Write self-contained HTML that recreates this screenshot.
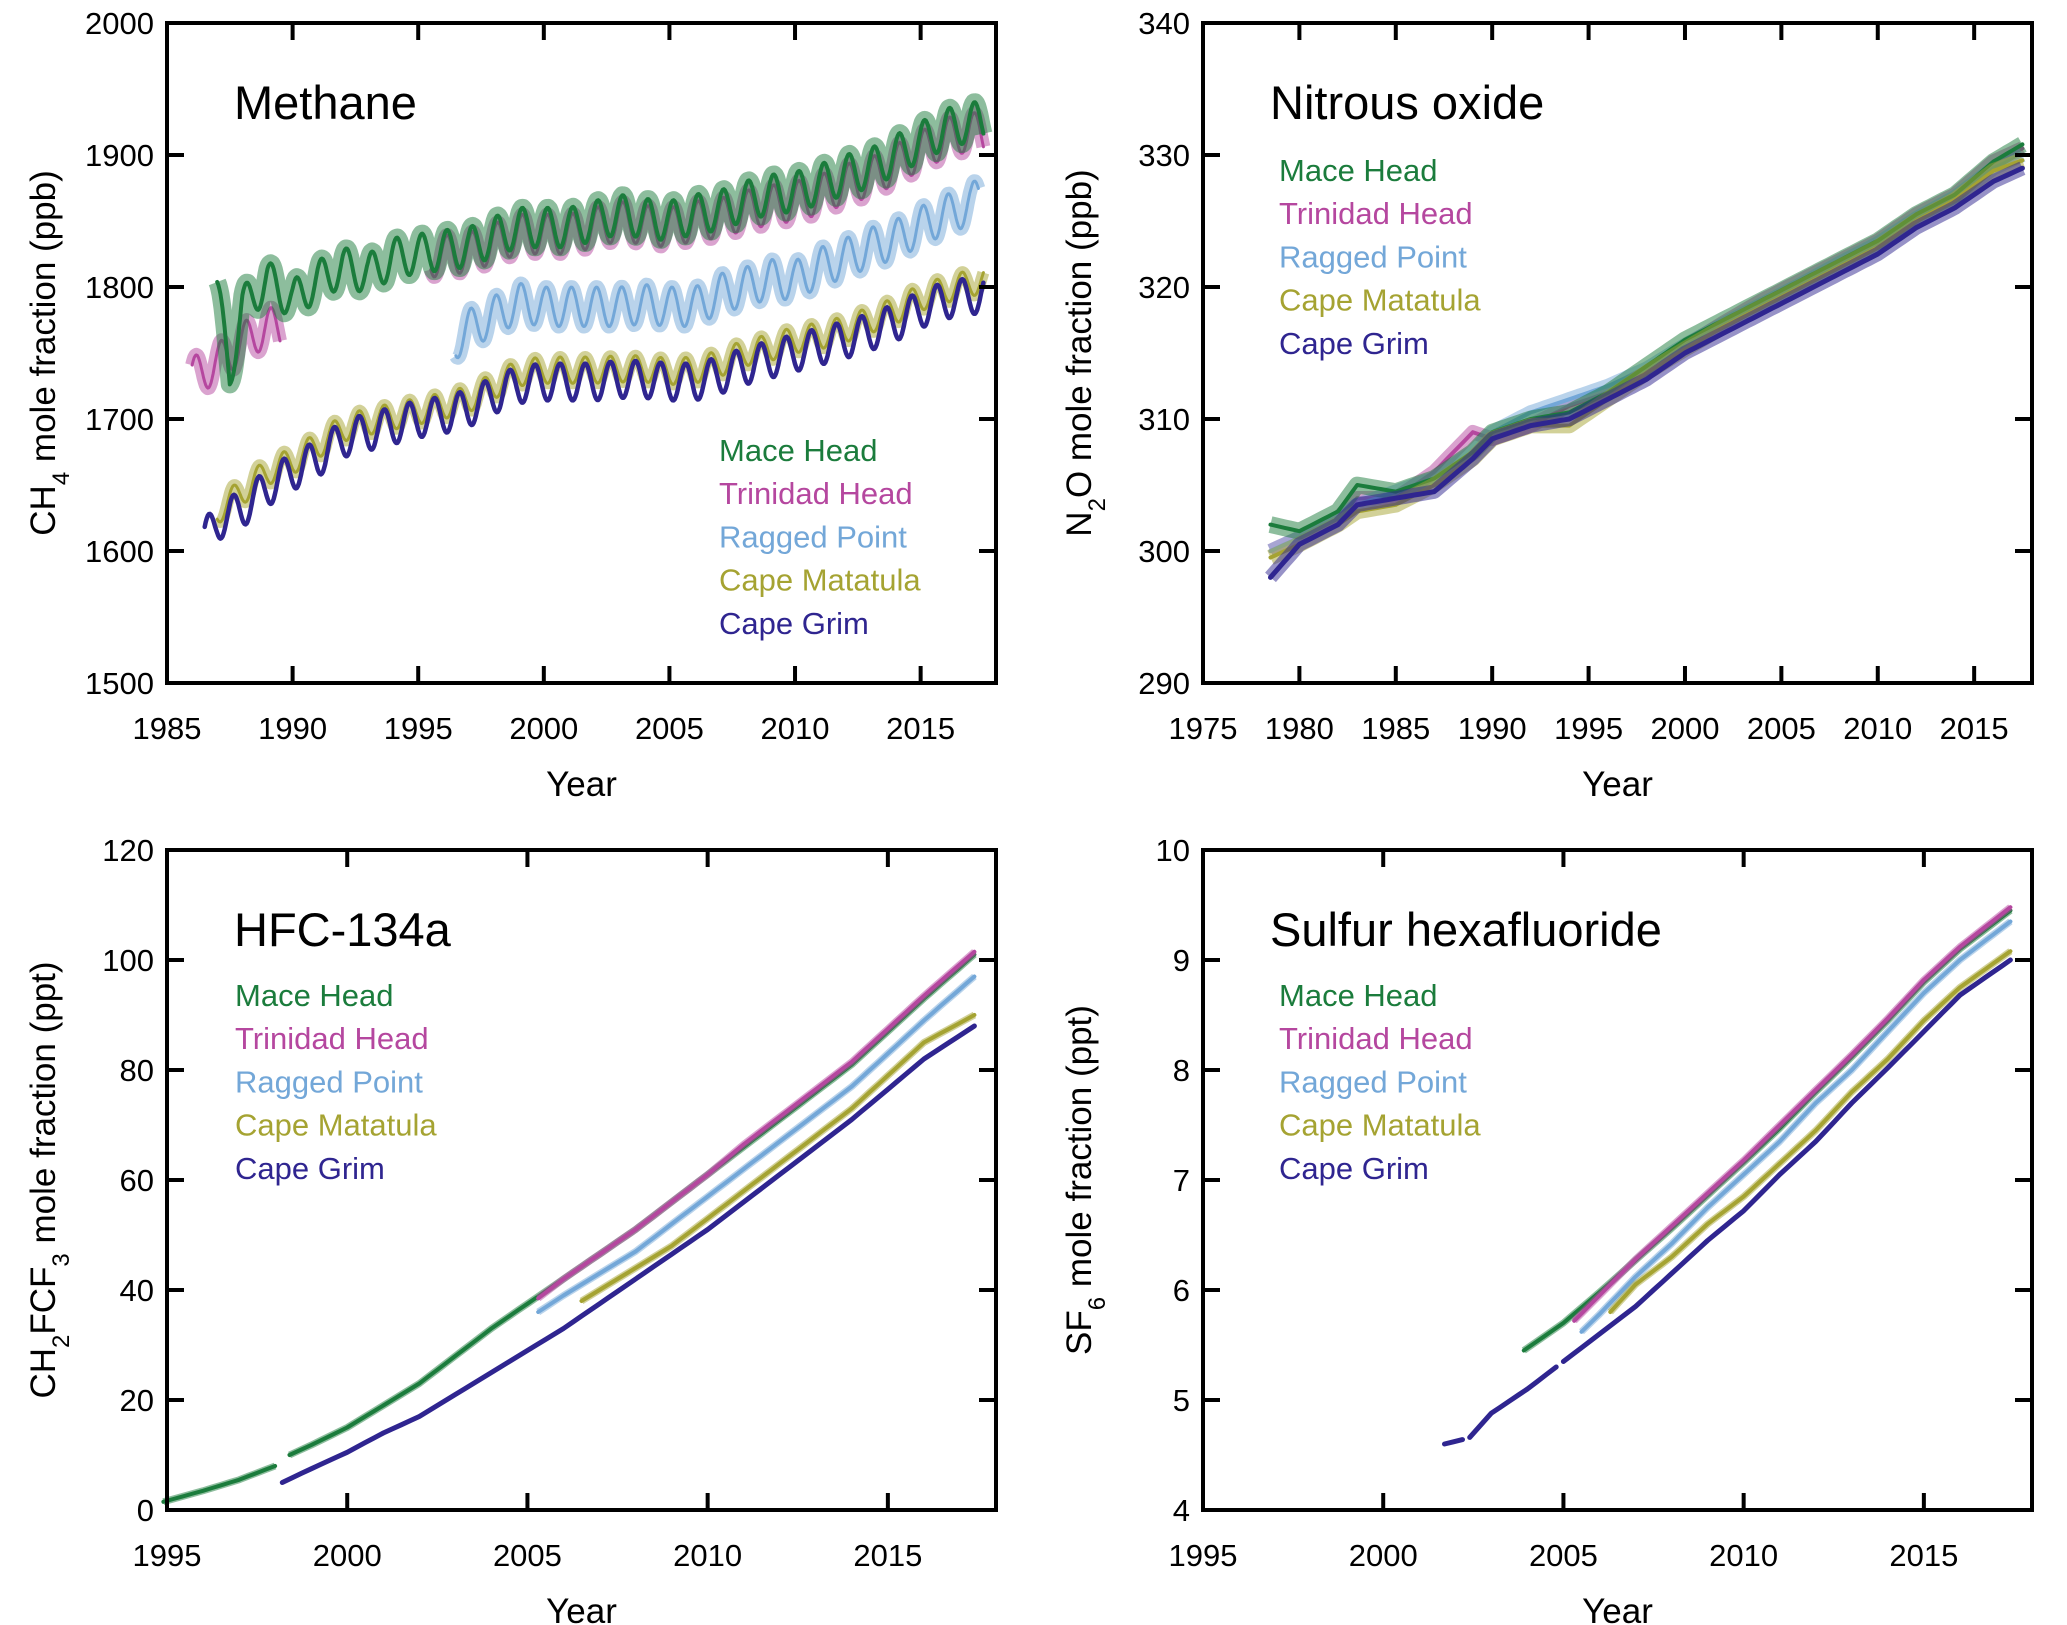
<!DOCTYPE html>
<html><head><meta charset="utf-8">
<style>
html,body{margin:0;padding:0;background:#fff;}
svg{display:block;font-family:"Liberation Sans",sans-serif;}
</style></head>
<body>
<svg id="fig" width="2067" height="1625" viewBox="0 0 2067 1625"></svg>
<script>
// ---------- Methane (ppb) ----------
const ch4GrimYears = [1986.5,1987,1988,1989,1990,1991,1992,1993,1994,1995,1996,1997,1998,1999,2000,2001,2002,2003,2004,2005,2006,2007,2008,2009,2010,2011,2012,2013,2014,2015,2016,2017,2017.5];
const ch4GrimValues = [1610,1622,1632,1648,1660,1670,1685,1690,1695,1700,1703,1708,1718,1726,1728,1728,1728,1730,1730,1728,1728,1733,1740,1745,1750,1755,1760,1766,1773,1783,1790,1793,1795];
const ch4MatatulaYears = [1987,1988,1989,1990,1991,1992,1993,1994,1995,1996,1997,1998,1999,2000,2001,2002,2003,2004,2005,2006,2007,2008,2009,2010,2011,2012,2013,2014,2015,2016,2017,2017.5];
const ch4MatatulaValues = [1630,1645,1660,1668,1680,1693,1698,1702,1706,1710,1715,1725,1735,1737,1737,1737,1738,1738,1736,1737,1742,1750,1754,1760,1763,1768,1775,1782,1792,1798,1803,1805];
const ch4MaceYears = [1987,1987.5,1988,1989,1990,1991,1992,1993,1994,1995,1996,1997,1998,1999,2000,2001,2002,2003,2004,2005,2006,2007,2008,2009,2010,2011,2012,2013,2014,2015,2016,2017,2017.5];
const ch4MaceValues = [1795,1735,1785,1805,1790,1805,1815,1810,1822,1825,1828,1830,1838,1845,1845,1845,1850,1855,1852,1850,1855,1858,1865,1870,1872,1878,1885,1890,1900,1910,1920,1925,1925];
const ch4TrinidadYears = [1986,1987,1988,1989,1989.5,null,1995.5,1996,1997,1998,1999,2000,2001,2002,2003,2004,2005,2006,2007,2008,2009,2010,2011,2012,2013,2014,2015,2016,2017,2017.5];
const ch4TrinidadValues = [1732,1742,1758,1770,1768,null,1822,1824,1826,1833,1840,1840,1840,1845,1850,1847,1845,1850,1852,1858,1862,1865,1870,1878,1883,1893,1903,1913,1918,1915];
const ch4RaggedYears = [1996.5,1997,1998,1999,2000,2001,2002,2003,2004,2005,2006,2007,2008,2009,2010,2011,2012,2013,2014,2015,2016,2017,2017.3];
const ch4RaggedValues = [1760,1768,1778,1788,1785,1785,1785,1785,1787,1785,1785,1795,1800,1806,1805,1815,1822,1830,1836,1846,1855,1862,1870];
const ch4Amplitudes = [14, 10, 15, 15, 15]; // Grim, Matatula, Mace, Trinidad, Ragged
// ---------- Nitrous oxide (ppb) ----------
const n2oYears = [1978.5,1980,1982,1983,1985,1987,1989,1990,1992,1994,1996,1998,2000,2002,2004,2006,2008,2010,2012,2014,2016,2017.5];
const n2oMaceValues = [302,301.5,303,305,304.5,305.5,307.5,309,310,310.5,312,314,316,317.5,319,320.5,322,323.5,325.5,327,329.5,330.8];
const n2oTrinidadValues = [300,301,302.5,304,304,306,309,308.5,309.5,311,312,313.5,315.5,317.3,319,320.5,322,323.5,325.5,327,329.5,330.5];
const n2oRaggedValues = [300,301,302.5,303.5,304.5,305.5,307.5,309,310.5,311.5,312.5,313.8,315.6,317.2,318.7,320.2,321.8,323.3,325.2,326.8,329,330];
const n2oMatatulaValues = [299.5,300.5,302,303,303.5,305,307,308.5,309.5,309.5,311.5,313.5,315.3,317,318.5,320,321.5,323,325,326.6,328.8,329.6];
const n2oGrimValues = [298,300.5,302,303.5,304,304.5,307,308.5,309.5,310,311.5,313,315,316.5,318,319.5,321,322.5,324.5,326,328,329];
const n2oNoise = [1.4, 1.2, 1.2, 1.3, 1.2];
// ---------- HFC-134a (ppt) ----------
const hfcMaceYears = [1994.9,1996,1997,1998,null,1998.4,1999,2000,2001,2002,2003,2004,2005,2006,2007,2008,2009,2010,2011,2012,2013,2014,2015,2016,2017.4];
const hfcMaceValues = [1.5,3.5,5.5,8,null,10,11.8,15,19,23,28,33,37.5,42,46.5,51,56,61,66,71,76,81,87,93,101];
const hfcTrinidadYears = [2005.3,2006,2007,2008,2009,2010,2011,2012,2013,2014,2015,2016,2017.4];
const hfcTrinidadValues = [38.5,42,46.5,51,56,61,66.5,71.5,76.5,81.5,87.5,93.5,101.5];
const hfcRaggedYears = [2005.3,2006,2007,2008,2009,2010,2011,2012,2013,2014,2015,2016,2017.4];
const hfcRaggedValues = [36,39,43,47,52,57,62,67,72,77,83,89,97];
const hfcMatatulaYears = [2006.5,2007,2008,2009,2010,2011,2012,2013,2014,2015,2016,2017.4];
const hfcMatatulaValues = [38,40,44,48,53,58,63,68,73,79,85,90];
const hfcGrimYears = [1998.2,1999,2000,2001,2002,2003,2004,2005,2006,2007,2008,2009,2010,2011,2012,2013,2014,2015,2016,2017.4];
const hfcGrimValues = [5,7.5,10.5,14,17,21,25,29,33,37.5,42,46.5,51,56,61,66,71,76.5,82,88];
// ---------- SF6 (ppt) ----------
const sf6GrimYears = [2001.7,2002.2,null,2002.4,2003,2004,2004.8,null,2005,2006,2007,2008,2009,2010,2011,2012,2013,2014,2015,2016,2017.4];
const sf6GrimValues = [4.6,4.64,null,4.66,4.88,5.1,5.3,null,5.35,5.6,5.85,6.15,6.45,6.72,7.05,7.35,7.7,8.02,8.35,8.68,9.0];
const sf6MaceYears = [2003.9,2005,2006,2007,2008,2009,2010,2011,2012,2013,2014,2015,2016,2017.4];
const sf6MaceValues = [5.45,5.7,5.98,6.27,6.56,6.86,7.16,7.47,7.8,8.12,8.45,8.8,9.1,9.45];
const sf6TrinidadYears = [2005.3,2006,2007,2008,2009,2010,2011,2012,2013,2014,2015,2016,2017.4];
const sf6TrinidadValues = [5.72,5.95,6.28,6.58,6.88,7.18,7.5,7.82,8.14,8.47,8.82,9.12,9.48];
const sf6RaggedYears = [2005.5,2006,2007,2008,2009,2010,2011,2012,2013,2014,2015,2016,2017.4];
const sf6RaggedValues = [5.62,5.78,6.12,6.42,6.75,7.05,7.35,7.7,8.0,8.35,8.7,9.0,9.35];
const sf6MatatulaYears = [2006.3,2007,2008,2009,2010,2011,2012,2013,2014,2015,2016,2017.4];
const sf6MatatulaValues = [5.8,6.05,6.3,6.6,6.85,7.15,7.45,7.8,8.1,8.45,8.75,9.08];

const COL = {mace:'#1b7c3c', trin:'#b5479f', rag:'#73a7d8', mat:'#a5a332', grim:'#2f2590'};
const NS='http://www.w3.org/2000/svg';
const fig=document.getElementById('fig');
function mk(tag,attrs,parent){const e=document.createElementNS(NS,tag);for(const k in attrs)e.setAttribute(k,attrs[k]);(parent||fig).appendChild(e);return e;}

function panel(p){
  const g=mk('g',{});
  
  
  const X=t=>p.x0+(t-p.xmin)/(p.xmax-p.xmin)*(p.x1-p.x0);
  const Y=v=>p.y1-(v-p.ymin)/(p.ymax-p.ymin)*(p.y1-p.y0);
  const sg=mk('g',{},g);
  
  
  p.series.forEach(s=>{
    let segs=[],cur=[];
    for(let i=0;i<s.years.length;i++){
      if(s.years[i]===null){if(cur.length)segs.push(cur);cur=[];continue;}
      cur.push([s.years[i],s.values[i]]);
    }
    if(cur.length)segs.push(cur);
    let d='';
    segs.forEach(seg=>{
      let pts=[];
      for(let i=0;i<seg.length-1;i++){
        const [t0,v0]=seg[i],[t1,v1]=seg[i+1];
        const n=Math.max(2,Math.round((t1-t0)*(s.amp?24:4)));
        for(let k=0;k<n;k++){
          const t=t0+(t1-t0)*k/n;let v=v0+(v1-v0)*k/n;
          if(s.amp)v+=s.amp*Math.sin(2*Math.PI*(t+s.phase));
          pts.push([t,v]);
        }
      }
      const last=seg[seg.length-1];let lv=last[1];
      if(s.amp)lv+=s.amp*Math.sin(2*Math.PI*(last[0]+s.phase));
      pts.push([last[0],lv]);
      d+='M'+pts.map(q=>X(q[0]).toFixed(1)+','+Y(q[1]).toFixed(1)).join('L');
    });
    if(s.noise){
      const b=mk('path',{d:d,fill:'none',stroke:s.color,'stroke-width':s.noise,'stroke-opacity':0.5,'stroke-linejoin':'round'},sg);
      
      
    }
    const ln=mk('path',{d:d,fill:'none',stroke:s.color,'stroke-width':s.w,'stroke-linejoin':'round','stroke-linecap':'round'},sg);
    
    
  });
  const fr=mk('rect',{x:p.x0,y:p.y0,width:p.x1-p.x0,height:p.y1-p.y0,fill:'none',stroke:'#000','stroke-width':4},g);
  
  
  const tl=17;
  p.yticks.forEach(v=>{
    const y=Y(v);
    const t1=mk('line',{x1:p.x0,x2:p.x0+tl,y1:y,y2:y,stroke:'#000','stroke-width':4},g);
    
    
    const t2=mk('line',{x1:p.x1,x2:p.x1-tl,y1:y,y2:y,stroke:'#000','stroke-width':4},g);
    
    
    const lb=mk('text',{x:p.x0-13,y:y+11,'text-anchor':'end','font-size':31},g);
    lb.textContent=v;
    
    
  });
  p.xticks.forEach(v=>{
    const x=X(v);
    const t1=mk('line',{x1:x,x2:x,y1:p.y1,y2:p.y1-tl,stroke:'#000','stroke-width':4},g);
    
    
    const t2=mk('line',{x1:x,x2:x,y1:p.y0,y2:p.y0+tl,stroke:'#000','stroke-width':4},g);
    
    
    const lb=mk('text',{x:x,y:p.y1+56,'text-anchor':'middle','font-size':31},g);
    lb.textContent=v;
    
    
  });
  const xt=mk('text',{x:(p.x0+p.x1)/2,y:p.y1+113,'text-anchor':'middle','font-size':35},g);
  xt.textContent='Year';
  
  
  const yt=mk('text',{x:0,y:0,'text-anchor':'middle','font-size':35,transform:`translate(${p.x0-112},${(p.y0+p.y1)/2}) rotate(-90)`},g);
  yt.innerHTML=p.ytitle;
  
  
  const ti=mk('text',{x:p.x0+67,y:p.y0+96,'font-size':47},g);
  ti.textContent=p.title;
  
  
  const names=[['Mace Head',COL.mace],['Trinidad Head',COL.trin],['Ragged Point',COL.rag],['Cape Matatula',COL.mat],['Cape Grim',COL.grim]];
  names.forEach((n,i)=>{
    const t=mk('text',{x:p.lx,y:p.ly+i*43.2,'font-size':31,fill:n[1]},g);
    t.textContent=n[0];
    
    
  });
}

panel({name:'methane-panel',title:'Methane',x0:167,x1:996,y0:23,y1:683,xmin:1985,xmax:2018,ymin:1500,ymax:2000,
  xticks:[1985,1990,1995,2000,2005,2010,2015],yticks:[1500,1600,1700,1800,1900,2000],
  ytitle:'CH<tspan baseline-shift="sub" font-size="24">4</tspan> mole fraction (ppb)',lx:719,ly:461,
  series:[
    {key:'trinidad-head',years:ch4TrinidadYears,values:ch4TrinidadValues,color:COL.trin,w:3,noise:14,amp:ch4Amplitudes[3],phase:0.1},
    {key:'mace-head',years:ch4MaceYears,values:ch4MaceValues,color:COL.mace,w:4,noise:18,amp:ch4Amplitudes[2],phase:0.1},
    {key:'ragged-point',years:ch4RaggedYears,values:ch4RaggedValues,color:COL.rag,w:3,noise:14,amp:ch4Amplitudes[4],phase:0.15},
    {key:'cape-matatula',years:ch4MatatulaYears,values:ch4MatatulaValues,color:COL.mat,w:3,noise:12,amp:ch4Amplitudes[1],phase:0.6},
    {key:'cape-grim',years:ch4GrimYears,values:ch4GrimValues,color:COL.grim,w:4.5,amp:ch4Amplitudes[0],phase:0.6}
  ]});
panel({name:'nitrous-oxide-panel',title:'Nitrous oxide',x0:1203,x1:2032,y0:23,y1:683,xmin:1975,xmax:2018,ymin:290,ymax:340,
  xticks:[1975,1980,1985,1990,1995,2000,2005,2010,2015],yticks:[290,300,310,320,330,340],
  ytitle:'N<tspan baseline-shift="sub" font-size="24">2</tspan>O mole fraction (ppb)',lx:1279,ly:181,
  series:[
    {key:'trinidad-head',years:n2oYears,values:n2oTrinidadValues,color:COL.trin,w:4,noise:n2oNoise[1]*12},
    {key:'ragged-point',years:n2oYears,values:n2oRaggedValues,color:COL.rag,w:4,noise:n2oNoise[2]*12},
    {key:'mace-head',years:n2oYears,values:n2oMaceValues,color:COL.mace,w:4,noise:n2oNoise[0]*12},
    {key:'cape-matatula',years:n2oYears,values:n2oMatatulaValues,color:COL.mat,w:4,noise:n2oNoise[3]*12},
    {key:'cape-grim',years:n2oYears,values:n2oGrimValues,color:COL.grim,w:5,noise:n2oNoise[4]*12}
  ]});
panel({name:'hfc134a-panel',title:'HFC-134a',x0:167,x1:996,y0:850,y1:1510,xmin:1995,xmax:2018,ymin:0,ymax:120,
  xticks:[1995,2000,2005,2010,2015],yticks:[0,20,40,60,80,100,120],
  ytitle:'CH<tspan baseline-shift="sub" font-size="24">2</tspan>FCF<tspan baseline-shift="sub" font-size="24">3</tspan> mole fraction (ppt)',lx:235,ly:1006,
  series:[
    {key:'mace-head',years:hfcMaceYears,values:hfcMaceValues,color:COL.mace,w:4,noise:7},
    {key:'trinidad-head',years:hfcTrinidadYears,values:hfcTrinidadValues,color:COL.trin,w:4,noise:7},
    {key:'ragged-point',years:hfcRaggedYears,values:hfcRaggedValues,color:COL.rag,w:4,noise:7},
    {key:'cape-matatula',years:hfcMatatulaYears,values:hfcMatatulaValues,color:COL.mat,w:4,noise:7},
    {key:'cape-grim',years:hfcGrimYears,values:hfcGrimValues,color:COL.grim,w:5}
  ]});
panel({name:'sf6-panel',title:'Sulfur hexafluoride',x0:1203,x1:2032,y0:850,y1:1510,xmin:1995,xmax:2018,ymin:4,ymax:10,
  xticks:[1995,2000,2005,2010,2015],yticks:[4,5,6,7,8,9,10],
  ytitle:'SF<tspan baseline-shift="sub" font-size="24">6</tspan> mole fraction (ppt)',lx:1279,ly:1006,
  series:[
    {key:'mace-head',years:sf6MaceYears,values:sf6MaceValues,color:COL.mace,w:4,noise:7},
    {key:'trinidad-head',years:sf6TrinidadYears,values:sf6TrinidadValues,color:COL.trin,w:4,noise:7},
    {key:'ragged-point',years:sf6RaggedYears,values:sf6RaggedValues,color:COL.rag,w:4,noise:7},
    {key:'cape-matatula',years:sf6MatatulaYears,values:sf6MatatulaValues,color:COL.mat,w:4,noise:7},
    {key:'cape-grim',years:sf6GrimYears,values:sf6GrimValues,color:COL.grim,w:5}
  ]});
</script>
</body></html>
